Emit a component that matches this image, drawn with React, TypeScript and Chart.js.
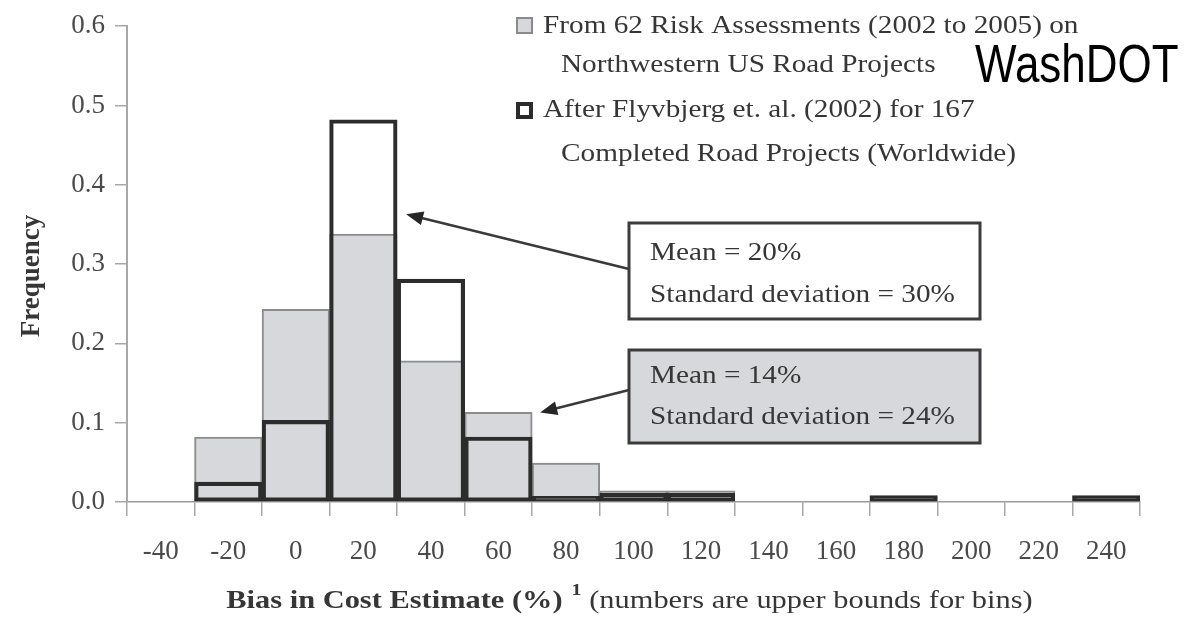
import React, { useEffect, useRef } from 'react';
import { Chart, registerables } from 'chart.js';

Chart.register(...registerables);

// ---------- data ----------
const binLabels = ['-40', '-20', '0', '20', '40', '60', '80', '100', '120', '140', '160', '180', '200', '220', '240'];
const riskAssessmentFreq = [0, 0.082, 0.243, 0.338, 0.178, 0.113, 0.049, 0.014, 0.014, 0, 0, 0, 0, 0, 0];
const flyvbjergFreq = [0, 0.025, 0.103, 0.482, 0.281, 0.082, 0.007, 0.011, 0.011, 0, 0, 0.008, 0, 0, 0.008];
const yMin = 0;
const yMax = 0.6;
const yStep = 0.1;

const legendRisk = ['From 62 Risk Assessments (2002 to 2005) on', 'Northwestern US Road Projects'];
const legendFlyv = ['After Flyvbjerg et. al. (2002) for 167', 'Completed Road Projects (Worldwide)'];
const noteFlyv = ['Mean = 20%', 'Standard deviation = 30%'];
const noteRisk = ['Mean = 14%', 'Standard deviation = 24%'];
const flyvNoteTarget = { bin: 3, value: 0.363 };
const riskNoteTarget = { bin: 5, value: 0.113 };
const yTitle = 'Frequency';
const xTitleBold = 'Bias in Cost Estimate (%)';
const xTitleSup = '1';
const xTitleRest = ' (numbers are upper bounds for bins)';
const stamp = 'WashDOT';

// ---------- style ----------
const SERIF = '"Liberation Serif", "Times New Roman", serif';
const SANS = '"Liberation Sans", Arial, sans-serif';
const SX = 1.17;
const TEXT = '#363636';
const GRAY_FILL = '#d6d8db';
const GRAY_EDGE = '#8c8c8c';
const DARK = '#2c2c2c';

function drawStretched(ctx: CanvasRenderingContext2D, text: string, x: number, y: number, font: string, color: string, sx = SX) {
  ctx.save();
  ctx.font = font;
  ctx.fillStyle = color;
  ctx.textBaseline = 'alphabetic';
  ctx.textAlign = 'left';
  ctx.translate(x, y);
  ctx.scale(sx, 1);
  ctx.fillText(text, 0, 0);
  const w = ctx.measureText(text).width * sx;
  ctx.restore();
  return w;
}

function measureStretched(ctx: CanvasRenderingContext2D, text: string, font: string, sx = SX) {
  ctx.save();
  ctx.font = font;
  const w = ctx.measureText(text).width * sx;
  ctx.restore();
  return w;
}

function drawArrow(ctx: CanvasRenderingContext2D, x1: number, y1: number, x2: number, y2: number) {
  const ang = Math.atan2(y2 - y1, x2 - x1);
  const c = Math.cos(ang);
  const s = Math.sin(ang);
  const hl = 17;
  const hw = 7;
  ctx.save();
  ctx.strokeStyle = '#3a3a3a';
  ctx.lineWidth = 2.5;
  ctx.beginPath();
  ctx.moveTo(x1, y1);
  ctx.lineTo(x2 - hl * 0.7 * c, y2 - hl * 0.7 * s);
  ctx.stroke();
  ctx.fillStyle = '#262626';
  ctx.beginPath();
  ctx.moveTo(x2, y2);
  ctx.lineTo(x2 - hl * c + hw * s, y2 - hl * s - hw * c);
  ctx.lineTo(x2 - hl * c - hw * s, y2 - hl * s + hw * c);
  ctx.closePath();
  ctx.fill();
  ctx.restore();
}

const overlayPlugin = {
  id: 'overlay',
  afterDraw(chart: any) {
    const ctx: CanvasRenderingContext2D = chart.ctx;
    const xs = chart.scales.x;
    const ys = chart.scales.y;
    const area = chart.chartArea;
    const binW = (area.right - area.left) / binLabels.length;
    const fontReg = `25px ${SERIF}`;
    const titleReg = `26px ${SERIF}`;
    const titleBold = `bold 26px ${SERIF}`;

    // y title
    ctx.save();
    ctx.translate(32, (area.top + area.bottom) / 2 + 12);
    ctx.rotate(-Math.PI / 2);
    ctx.font = `bold 27px ${SERIF}`;
    ctx.fillStyle = TEXT;
    ctx.textAlign = 'center';
    ctx.textBaseline = 'middle';
    ctx.fillText(yTitle, 0, 0);
    ctx.restore();

    // x title
    const wBold = measureStretched(ctx, xTitleBold, titleBold);
    const wSup = measureStretched(ctx, xTitleSup, `bold 17px ${SERIF}`);
    const wRest = measureStretched(ctx, xTitleRest, titleReg);
    const total = wBold + 9 + wSup + wRest;
    let tx = (area.left + area.right) / 2 - total / 2 - 4;
    const tBase = 608;
    tx += drawStretched(ctx, xTitleBold, tx, tBase, titleBold, TEXT);
    tx += 9;
    tx += drawStretched(ctx, xTitleSup, tx, tBase - 13, `bold 17px ${SERIF}`, TEXT);
    drawStretched(ctx, xTitleRest, tx, tBase, titleReg, TEXT);

    // legend
    ctx.save();
    ctx.fillStyle = GRAY_FILL;
    ctx.fillRect(517, 18, 15, 15);
    ctx.strokeStyle = '#8a8a8a';
    ctx.lineWidth = 2;
    ctx.strokeRect(517, 18, 15, 15);
    ctx.fillStyle = '#ffffff';
    ctx.fillRect(517, 103, 15, 15);
    ctx.strokeStyle = DARK;
    ctx.lineWidth = 4;
    ctx.strokeRect(518, 104, 13, 13);
    ctx.restore();
    drawStretched(ctx, legendRisk[0], 543, 33, fontReg, TEXT);
    drawStretched(ctx, legendRisk[1], 561, 72, fontReg, TEXT);
    drawStretched(ctx, legendFlyv[0], 543, 117, fontReg, TEXT);
    drawStretched(ctx, legendFlyv[1], 561, 161, fontReg, TEXT);

    // stamp
    drawStretched(ctx, stamp, 975, 82, `53px ${SANS}`, '#000000', 0.83);

    // notes
    const box1 = { l: 629, t: 223, r: 980, b: 319 };
    const box2 = { l: 629, t: 350, r: 980, b: 443 };
    ctx.save();
    ctx.fillStyle = '#ffffff';
    ctx.fillRect(box1.l, box1.t, box1.r - box1.l, box1.b - box1.t);
    ctx.strokeStyle = '#3c3c3c';
    ctx.lineWidth = 3;
    ctx.strokeRect(box1.l, box1.t, box1.r - box1.l, box1.b - box1.t);
    ctx.fillStyle = GRAY_FILL;
    ctx.fillRect(box2.l, box2.t, box2.r - box2.l, box2.b - box2.t);
    ctx.strokeStyle = '#3c3c3c';
    ctx.strokeRect(box2.l, box2.t, box2.r - box2.l, box2.b - box2.t);
    ctx.restore();
    drawStretched(ctx, noteFlyv[0], 650, 260, fontReg, TEXT);
    drawStretched(ctx, noteFlyv[1], 650, 302, fontReg, TEXT);
    drawStretched(ctx, noteRisk[0], 650, 383, fontReg, TEXT);
    drawStretched(ctx, noteRisk[1], 650, 424, fontReg, TEXT);

    // arrows
    const t1x = xs.getPixelForValue(flyvNoteTarget.bin) + binW / 2 + 9;
    const t1y = ys.getPixelForValue(flyvNoteTarget.value);
    drawArrow(ctx, box1.l, 269, t1x, t1y);
    const t2x = xs.getPixelForValue(riskNoteTarget.bin) + binW / 2 + 8;
    const t2y = ys.getPixelForValue(riskNoteTarget.value);
    drawArrow(ctx, box2.l, 390, t2x, t2y);
  },
};

export default function App() {
  const canvasRef = useRef<HTMLCanvasElement | null>(null);

  useEffect(() => {
    const canvas = canvasRef.current;
    if (!canvas) return;
    const chart = new Chart(canvas, {
      type: 'bar',
      data: {
        labels: binLabels,
        datasets: [
          {
            label: 'After Flyvbjerg et. al. (2002) for 167 Completed Road Projects (Worldwide)',
            data: flyvbjergFreq,
            // very short outlined bars print as solid dark slivers
            backgroundColor: (c: any) => {
              const v = c.raw;
              return typeof v === 'number' && v > 0 && v < 0.01 ? DARK : 'rgba(0,0,0,0)';
            },
            borderColor: DARK,
            borderWidth: 3.5,
            borderSkipped: false,
            grouped: false,
            barPercentage: 1,
            categoryPercentage: 1,
          } as any,
          {
            label: 'From 62 Risk Assessments (2002 to 2005) on Northwestern US Road Projects',
            data: riskAssessmentFreq,
            backgroundColor: GRAY_FILL,
            borderColor: GRAY_EDGE,
            borderWidth: 2,
            borderSkipped: 'start',
            grouped: false,
            barPercentage: 1,
            categoryPercentage: 1,
          } as any,
        ],
      },
      options: {
        responsive: false,
        animation: false,
        devicePixelRatio: 1,
        layout: { padding: { top: 24, right: 50, left: 0, bottom: 0 } },
        plugins: {
          legend: { display: false },
          tooltip: { enabled: false },
        },
        scales: {
          x: {
            type: 'category',
            offset: true,
            afterFit: (scale: any) => { scale.height = 116; },
            grid: {
              display: true,
              offset: true,
              drawOnChartArea: false,
              drawTicks: true,
              tickLength: 14,
              color: '#a8a8a8',
              lineWidth: 1.5,
            },
            border: { display: true, color: '#9a9a9a', width: 1.5 },
            ticks: {
              color: '#4a4a4a',
              font: { family: SERIF, size: 27 },
              padding: 20,
              maxRotation: 0,
              autoSkip: false,
            },
          },
          y: {
            min: yMin,
            max: yMax,
            afterFit: (scale: any) => { scale.width = 127; },
            grid: {
              display: true,
              drawOnChartArea: false,
              drawTicks: true,
              tickLength: 12,
              color: '#a8a8a8',
              lineWidth: 1.5,
            },
            border: { display: true, color: '#a8a8a8', width: 2 },
            ticks: {
              stepSize: yStep,
              color: '#4a4a4a',
              font: { family: SERIF, size: 27 },
              padding: 10,
              callback: (v: any) => Number(v).toFixed(1),
            },
          },
        },
      } as any,
      plugins: [overlayPlugin],
    });
    return () => chart.destroy();
  }, []);

  return (
    <div style={{ position: 'absolute', left: 0, top: 0, width: 1190, height: 618, background: '#ffffff' }}>
      <canvas ref={canvasRef} width={1190} height={618} />
    </div>
  );
}
